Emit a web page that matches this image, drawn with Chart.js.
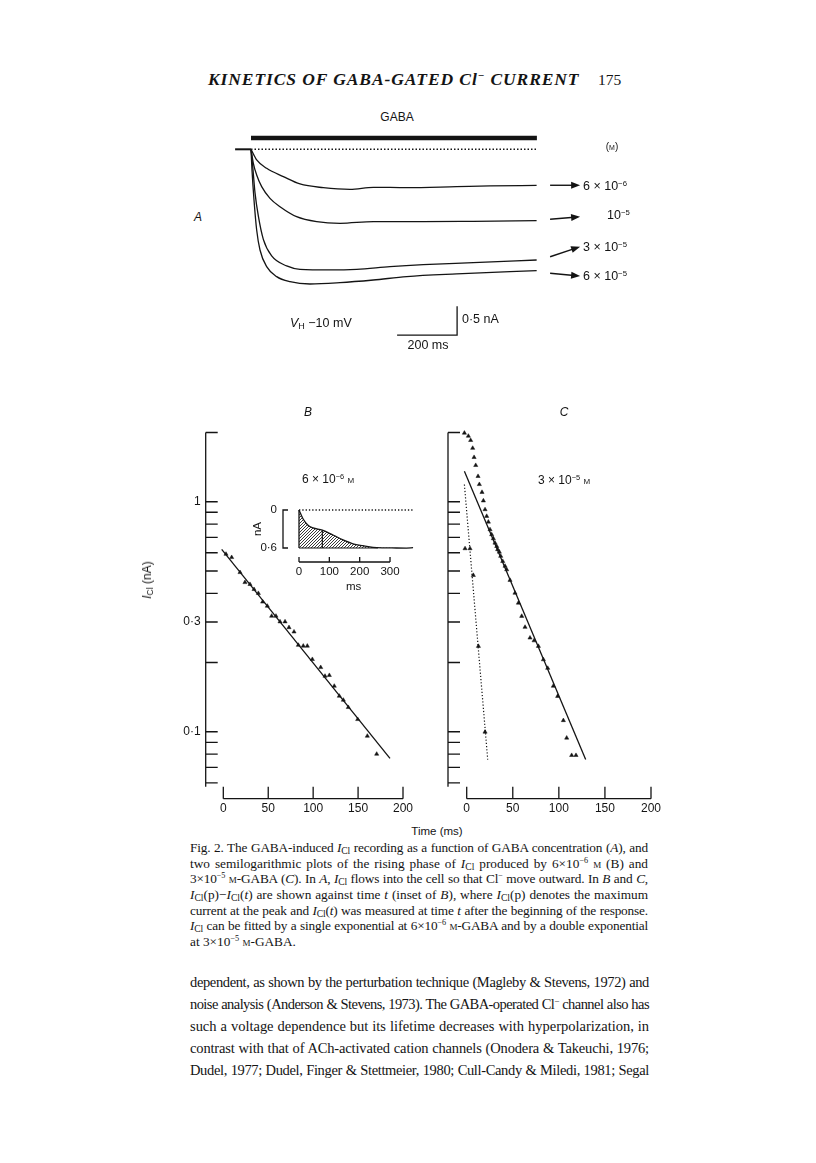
<!DOCTYPE html>
<html>
<head>
<meta charset="utf-8">
<script src="https://cdn.jsdelivr.net/npm/chart.js@4.4.1/dist/chart.umd.min.js"></script>
<style>
body { margin: 0; background: #fff; }
#page { position: relative; width: 816px; height: 1163px; overflow: hidden; color: #141414; }
canvas { position: absolute; }
.t { position: absolute; white-space: nowrap; line-height: 1; }
.sans { font-family: "Liberation Sans", Arial, sans-serif; }
.serif { font-family: "Liberation Serif", "Times New Roman", serif; }
.jl { position: absolute; left: 190px; white-space: nowrap; line-height: 1; font-family: "Liberation Serif", serif; }
.cap { font-size: 13.3px; }
.body { font-size: 14.5px; }
sup { font-size: 0.62em; vertical-align: 0.55em; line-height: 0; }
sub { font-size: 0.72em; vertical-align: -0.25em; line-height: 0; }
.sc { font-variant: small-caps; }
</style>
</head>
<body>
<div id="page">
  <div class="t serif" style="left:208px;top:80px;transform:translateY(-50%);font-weight:bold;font-style:italic;font-size:17.5px;letter-spacing:0.9px">KINETICS OF GABA-GATED Cl<sup>−</sup> CURRENT</div>
  <div class="t serif" style="left:598px;top:80px;transform:translateY(-50%);font-size:15.5px">175</div>

  <canvas id="chartA" width="420" height="225" style="left:230px;top:125px;width:420px;height:225px"></canvas>
  <canvas id="chartB" width="290" height="420" style="left:130px;top:400px;width:290px;height:420px"></canvas>
  <canvas id="chartC" width="240" height="420" style="left:430px;top:400px;width:240px;height:420px"></canvas>
  <canvas id="chartInset" width="180" height="100" style="left:250px;top:495px;width:180px;height:100px"></canvas>

  <div class="t sans" style="left:397px;top:117px;transform:translate(-50%,-50%);font-size:12px">GABA</div>
  <div class="t sans" style="left:612px;top:147px;transform:translate(-50%,-50%);font-size:10px">(<span class="sc">m</span>)</div>
  <div class="t sans" style="left:583px;top:186px;transform:translateY(-50%);font-size:12.5px">6 × 10<sup>−6</sup></div>
  <div class="t sans" style="left:607px;top:215px;transform:translateY(-50%);font-size:12.5px">10<sup>−5</sup></div>
  <div class="t sans" style="left:583px;top:247px;transform:translateY(-50%);font-size:12.5px">3 × 10<sup>−5</sup></div>
  <div class="t sans" style="left:583px;top:276px;transform:translateY(-50%);font-size:12.5px">6 × 10<sup>−5</sup></div>
  <div class="t sans" style="left:198px;top:217px;transform:translate(-50%,-50%);font-size:12px;font-style:italic">A</div>
  <div class="t sans" style="left:290px;top:323px;transform:translateY(-50%);font-size:12.5px"><i>V</i><sub>H</sub> −10 mV</div>
  <div class="t sans" style="left:462px;top:319px;transform:translateY(-50%);font-size:12.5px">0·5 nA</div>
  <div class="t sans" style="left:428px;top:345px;transform:translate(-50%,-50%);font-size:12.5px">200 ms</div>

  <div class="t sans" style="left:308px;top:412px;transform:translate(-50%,-50%);font-size:12px;font-style:italic">B</div>
  <div class="t sans" style="left:564px;top:412px;transform:translate(-50%,-50%);font-size:12px;font-style:italic">C</div>
  <div class="t sans" style="left:302px;top:479px;transform:translateY(-50%);font-size:12px">6 × 10<sup>−6</sup> <span class="sc">m</span></div>
  <div class="t sans" style="left:538px;top:480px;transform:translateY(-50%);font-size:12px">3 × 10<sup>−5</sup> <span class="sc">m</span></div>
  <div class="t sans" style="left:147px;top:580px;transform:translate(-50%,-50%) rotate(-90deg);font-size:12px"><i>I</i><sub>Cl</sub> (nA)</div>
  <div class="t sans" style="left:437px;top:832px;transform:translate(-50%,-50%);font-size:11.5px">Time (ms)</div>

  <div class="jl cap" data-w="458" style="top:841px">Fig. 2. The GABA-induced <i>I</i><sub>Cl</sub> recording as a function of GABA concentration (<i>A</i>), and</div>
  <div class="jl cap" data-w="458" style="top:857px">two semilogarithmic plots of the rising phase of <i>I</i><sub>Cl</sub> produced by 6×10<sup>−6</sup> <span class="sc">m</span> (B) and</div>
  <div class="jl cap" data-w="458" style="top:872px">3×10<sup>−5</sup> <span class="sc">m</span>-GABA (<i>C</i>). In <i>A</i>, <i>I</i><sub>Cl</sub> flows into the cell so that Cl<sup>−</sup> move outward. In <i>B</i> and <i>C</i>,</div>
  <div class="jl cap" data-w="458" style="top:888px"><i>I</i><sub>Cl</sub>(p)−<i>I</i><sub>Cl</sub>(<i>t</i>) are shown against time <i>t</i> (inset of <i>B</i>), where <i>I</i><sub>Cl</sub>(p) denotes the maximum</div>
  <div class="jl cap" data-w="458" style="top:904px">current at the peak and <i>I</i><sub>Cl</sub>(<i>t</i>) was measured at time <i>t</i> after the beginning of the response.</div>
  <div class="jl cap" data-w="458" style="top:919px"><i>I</i><sub>Cl</sub> can be fitted by a single exponential at 6×10<sup>−6</sup> <span class="sc">m</span>-GABA and by a double exponential</div>
  <div class="jl cap" style="top:935px">at 3×10<sup>−5</sup> <span class="sc">m</span>-GABA.</div>

  <div class="jl body" data-w="459" style="top:975px">dependent, as shown by the perturbation technique (Magleby &amp; Stevens, 1972) and</div>
  <div class="jl body" data-w="459" style="top:997px">noise analysis (Anderson &amp; Stevens, 1973). The GABA-operated Cl<sup>−</sup> channel also has</div>
  <div class="jl body" data-w="459" style="top:1019px">such a voltage dependence but its lifetime decreases with hyperpolarization, in</div>
  <div class="jl body" data-w="459" style="top:1041px">contrast with that of ACh-activated cation channels (Onodera &amp; Takeuchi, 1976;</div>
  <div class="jl body" data-w="459" style="top:1063px">Dudel, 1977; Dudel, Finger &amp; Stettmeier, 1980; Cull-Candy &amp; Miledi, 1981; Segal</div>
</div>

<script>
// ---- A: current traces (time in ms after GABA onset, current in nA)
const baseT = [-53, 0];
const baseI = [0, 0];
const gabaT = [0, 953];
const gabaI = [0.195, 0.195];
const zeroT = [0, 953];
const zeroI = [0, 0];

const t6e6 = [0, 18.9, 52.2, 107.8, 163.3, 241, 330, 408, 519, 685, 797, 952];
const i6e6 = [0, -0.184, -0.328, -0.471, -0.598, -0.661, -0.69, -0.655, -0.661, -0.644, -0.632, -0.621];
const t1e5 = [0, 7.8, 18.9, 35.6, 63.3, 96.7, 152, 219, 297, 408, 574, 741, 952];
const i1e5 = [0, -0.241, -0.443, -0.644, -0.845, -0.989, -1.161, -1.247, -1.276, -1.247, -1.247, -1.241, -1.23];
const t3e5 = [0, 5.6, 13.3, 24.4, 41.1, 68.9, 118.9, 163.3, 263.3, 352.2, 463.3, 574.4, 741.1, 952.2];
const i3e5 = [0, -0.287, -0.747, -1.149, -1.552, -1.839, -2.011, -2.069, -2.08, -2.069, -2.023, -1.989, -1.954, -1.908];
const t6e5 = [0, 3.3, 10, 18.9, 30, 52.2, 85.6, 130, 196.7, 296.7, 407.8, 518.9, 685.6, 952.2];
const i6e5 = [0, -0.356, -0.874, -1.391, -1.736, -2.023, -2.195, -2.282, -2.322, -2.299, -2.253, -2.195, -2.149, -2.092];

const scaleBarT = [487, 687, 687];
const scaleBarI = [-3.205, -3.205, -2.705];

// arrows pointing at the trace labels: [fromT, fromI, toT, toI]
const arrows = [
  [997, -0.62, 1097, -0.62],
  [997, -1.207, 1097, -1.162],
  [997, -1.852, 1097, -1.679],
  [997, -2.138, 1097, -2.184]
];

// ---- B: 6e-6 M, semilog points and single exponential fit
const bT = [3.0, 9.3, 18.6, 24.1, 29.7, 34.2, 39.0, 43.8, 49.0, 53.8, 58.6, 63.1, 68.7, 73.1, 78.7, 83.5, 89.0, 93.5, 99.1, 108.4, 113.2, 118.0, 123.5, 129.1, 133.6, 139.1, 149.6, 160.3, 170.7];
const bI = [0.592, 0.573, 0.493, 0.446, 0.4375, 0.416, 0.400, 0.367, 0.352, 0.3185, 0.3185, 0.301, 0.301, 0.284, 0.272, 0.238, 0.236, 0.236, 0.2065, 0.1905, 0.1746, 0.176, 0.158, 0.143, 0.1374, 0.1277, 0.1132, 0.0958, 0.080];
const bFitT = [-1.8, 185.5];
const bFitI = [0.621, 0.0766];

// ---- C: 3e-5 M, points, slow fit and fast (dotted) component
const cT = [-2.5, 1.8, 4.3, 6.5, 8.0, 9.8, 12.3, 13.7, 16.6, 18.1, 19.9, 21.7, 23.5, 25.3, 27.1, 28.9, 30.7, 32.6, 33.6, 35.4, 36.9, 39.1, 41.6, 43.4, 47.0, 52.4, 56.1, 59.7, 63.3, 68.7, 73.1, 77.8, 83.2, 87.9, 94.0, 98.7, 104.9, 108.5, 113.9, 118.6];
const cI = [1.99, 1.93, 1.85, 1.71, 1.56, 1.44, 1.29, 1.19, 1.10, 1.01, 0.925, 0.865, 0.817, 0.757, 0.72, 0.692, 0.662, 0.64, 0.62, 0.605, 0.58, 0.551, 0.525, 0.507, 0.456, 0.401, 0.363, 0.318, 0.285, 0.256, 0.249, 0.2355, 0.206, 0.189, 0.158, 0.1427, 0.112, 0.094, 0.079, 0.079];
const cFastT = [-1.8, 3.6, 7.2, 12.7, 19.9];
const cFastI = [0.626, 0.626, 0.479, 0.2355, 0.0998];
const cSlowFitT = [-2.5, 129.1];
const cSlowFitI = [1.357, 0.0757];
const cFastFitT = [-2.5, 22.8];
const cFastFitI = [1.188, 0.0757];

// axis ticks for B and C
const logTicks = [2, 1, 0.9, 0.8, 0.7, 0.6, 0.5, 0.4, 0.3, 0.2, 0.1, 0.09, 0.08, 0.07, 0.06];
const logLabels = [1, 0.3, 0.1];
const logLabelText = ['1', '0·3', '0·1'];
const timeTicks = [0, 50, 100, 150, 200];

// ---- inset of B: rising phase, nA (downward) vs ms
const insetT = [0, 13.2, 29.7, 46.2, 76.9, 112, 145, 178, 211, 244, 277, 321, 354, 376];
const insetI = [0, 0.138, 0.241, 0.282, 0.318, 0.395, 0.472, 0.533, 0.564, 0.590, 0.598, 0.600, 0.602, 0.595];
const insetMarkT = [76.9, 76.9];
const insetMarkI = [0.318, 0.6];
const insetEdgeT = [0, 0];
const insetEdgeI = [0, 0.6];
const insetFloorT = [0, 260];
const insetFloorI = [0.6, 0.6];
const insetZeroT = [0, 376];
const insetZeroI = [0, 0];
const insetYTicks = [0, 0.6];
const insetYText = ['0', '0·6'];
const insetXTicks = [0, 100, 200, 300];

const ink = '#141414';
const pts = (xs, ys) => xs.map((x, i) => ({x: x, y: ys[i]}));

function lineSet(xs, ys, extra) {
    return Object.assign({
        data: pts(xs, ys),
        showLine: true,
        borderColor: ink,
        borderWidth: 1.3,
        pointRadius: 0,
        fill: false,
        clip: false
    }, extra || {});
}

const baseOptions = (padding, xs, ys) => ({
    responsive: false,
    animation: false,
    events: [],
    layout: { padding: padding },
    plugins: { legend: { display: false }, tooltip: { enabled: false } },
    scales: { x: xs, y: ys }
});

// arrows in panel A
const arrowPlugin = {
    id: 'arrowPlugin',
    afterDatasetsDraw(chart) {
        const {ctx, scales: {x, y}} = chart;
        ctx.save();
        ctx.strokeStyle = ink;
        ctx.fillStyle = ink;
        ctx.lineWidth = 1.4;
        arrows.forEach(a => {
            const x0 = x.getPixelForValue(a[0]), y0 = y.getPixelForValue(a[1]);
            const x1 = x.getPixelForValue(a[2]), y1 = y.getPixelForValue(a[3]);
            const ang = Math.atan2(y1 - y0, x1 - x0);
            ctx.beginPath();
            ctx.moveTo(x0, y0);
            ctx.lineTo(x1 - 6 * Math.cos(ang), y1 - 6 * Math.sin(ang));
            ctx.stroke();
            ctx.beginPath();
            ctx.moveTo(x1, y1);
            ctx.lineTo(x1 - 9 * Math.cos(ang) + 3.5 * Math.sin(ang), y1 - 9 * Math.sin(ang) - 3.5 * Math.cos(ang));
            ctx.lineTo(x1 - 9 * Math.cos(ang) - 3.5 * Math.sin(ang), y1 - 9 * Math.sin(ang) + 3.5 * Math.cos(ang));
            ctx.closePath();
            ctx.fill();
        });
        ctx.restore();
    }
};

// detached axes for the semilog panels
const semilogAxes = {
    id: 'semilogAxes',
    afterDraw(chart, args, opts) {
        const {ctx, chartArea, scales: {x, y}} = chart;
        ctx.save();
        ctx.strokeStyle = ink;
        ctx.lineWidth = 1.3;
        ctx.beginPath();
        ctx.moveTo(chartArea.left, chartArea.top);
        ctx.lineTo(chartArea.left, chartArea.bottom);
        logTicks.forEach(v => {
            const py = y.getPixelForValue(v);
            ctx.moveTo(chartArea.left, py);
            ctx.lineTo(chartArea.left + 12, py);
        });
        const base = chartArea.bottom + 12;
        ctx.moveTo(x.getPixelForValue(timeTicks[0]), base);
        ctx.lineTo(x.getPixelForValue(timeTicks[timeTicks.length - 1]), base);
        timeTicks.forEach(v => {
            const px = x.getPixelForValue(v);
            ctx.moveTo(px, base);
            ctx.lineTo(px, base - 12);
        });
        ctx.stroke();
        ctx.fillStyle = ink;
        ctx.font = '12px "Liberation Sans", Arial, sans-serif';
        ctx.textAlign = 'center';
        ctx.textBaseline = 'middle';
        timeTicks.forEach(v => ctx.fillText(String(v), x.getPixelForValue(v), base + 10));
        if(opts.labels) {
            ctx.textAlign = 'right';
            logLabels.forEach((v, i) => ctx.fillText(logLabelText[i], chartArea.left - 5, y.getPixelForValue(v)));
        }
        ctx.restore();
    }
};

const insetAxes = {
    id: 'insetAxes',
    afterDraw(chart) {
        const {ctx, chartArea, scales: {x, y}} = chart;
        const bx = chartArea.left - 16;
        const y0 = y.getPixelForValue(insetYTicks[0]);
        const y1 = y.getPixelForValue(insetYTicks[1]);
        ctx.save();
        ctx.strokeStyle = ink;
        ctx.lineWidth = 1.3;
        ctx.beginPath();
        ctx.moveTo(bx + 5, y0);
        ctx.lineTo(bx, y0);
        ctx.lineTo(bx, y1);
        ctx.lineTo(bx + 5, y1);
        const base = chartArea.bottom + 14;
        ctx.moveTo(x.getPixelForValue(insetXTicks[0]), base);
        ctx.lineTo(x.getPixelForValue(insetXTicks[insetXTicks.length - 1]), base);
        insetXTicks.forEach(v => {
            const px = x.getPixelForValue(v);
            ctx.moveTo(px, base);
            ctx.lineTo(px, base - 5);
        });
        ctx.stroke();
        ctx.fillStyle = ink;
        ctx.font = '11.5px "Liberation Sans", Arial, sans-serif';
        ctx.textBaseline = 'middle';
        ctx.textAlign = 'right';
        insetYTicks.forEach((v, i) => ctx.fillText(insetYText[i], bx - 6, y.getPixelForValue(v)));
        ctx.textAlign = 'center';
        insetXTicks.forEach(v => ctx.fillText(String(v), x.getPixelForValue(v), base + 10));
        ctx.fillText('ms', x.getPixelForValue(180), base + 25);
        ctx.translate(bx - 25, (y0 + y1) / 2);
        ctx.rotate(-Math.PI / 2);
        ctx.fillText('nA', 0, 0);
        ctx.restore();
    }
};

function hatch() {
    const c = document.createElement('canvas');
    c.width = 3;
    c.height = 3;
    const g = c.getContext('2d');
    g.strokeStyle = '#222';
    g.lineWidth = 0.9;
    g.beginPath();
    g.moveTo(0, 3);
    g.lineTo(3, 0);
    g.moveTo(-1, 1);
    g.lineTo(1, -1);
    g.moveTo(2, 4);
    g.lineTo(4, 2);
    g.stroke();
    return g.createPattern(c, 'repeat');
}

document.addEventListener('DOMContentLoaded', () => {
    const smooth = { cubicInterpolationMode: 'monotone' };

    new Chart(document.getElementById('chartA'), {
        type: 'scatter',
        data: {
            datasets: [
                lineSet(gabaT, gabaI, { borderWidth: 4.5 }),
                lineSet(zeroT, zeroI, { borderWidth: 1.4, borderDash: [1.5, 2] }),
                lineSet(baseT, baseI, { borderWidth: 2 }),
                lineSet(t6e6, i6e6, smooth),
                lineSet(t1e5, i1e5, smooth),
                lineSet(t3e5, i3e5, smooth),
                lineSet(t6e5, i6e5, smooth),
                lineSet(scaleBarT, scaleBarI, { borderWidth: 1.3 })
            ]
        },
        options: baseOptions(0,
            { type: 'linear', min: -70, max: 1330, display: false },
            { type: 'linear', min: -3.46, max: 0.419, display: false }),
        plugins: [arrowPlugin]
    });

    const triangles = (xs, ys) => ({
        data: pts(xs, ys),
        pointStyle: 'triangle',
        pointRadius: 2.4,
        backgroundColor: ink,
        borderColor: ink,
        borderWidth: 0.5,
        showLine: false,
        clip: false
    });

    const optB = baseOptions({ left: 75.7, right: 17, top: 32.5, bottom: 33.3 },
        { type: 'linear', min: -19.6, max: 200, display: false },
        { type: 'logarithmic', min: 0.0577, max: 2, display: false });
    optB.plugins.semilogAxes = { labels: true };
    new Chart(document.getElementById('chartB'), {
        type: 'scatter',
        data: {
            datasets: [
                lineSet(bFitT, bFitI, { borderWidth: 1.3 }),
                triangles(bT, bI)
            ]
        },
        options: optB,
        plugins: [semilogAxes]
    });

    const optC = baseOptions({ left: 18, right: 19, top: 32.5, bottom: 33.3 },
        { type: 'linear', min: -20.3, max: 200, display: false },
        { type: 'logarithmic', min: 0.0577, max: 2, display: false });
    optC.plugins.semilogAxes = { labels: false };
    new Chart(document.getElementById('chartC'), {
        type: 'scatter',
        data: {
            datasets: [
                lineSet(cSlowFitT, cSlowFitI, { borderWidth: 1.3 }),
                lineSet(cFastFitT, cFastFitI, { borderWidth: 1.2, borderDash: [1.2, 2] }),
                triangles(cT, cI),
                triangles(cFastT, cFastI)
            ]
        },
        options: optC,
        plugins: [semilogAxes]
    });

    new Chart(document.getElementById('chartInset'), {
        type: 'scatter',
        data: {
            datasets: [
                lineSet(insetT, insetI, { fill: { value: 0.6 }, backgroundColor: hatch(), borderWidth: 1.3, cubicInterpolationMode: 'monotone' }),
                lineSet(insetZeroT, insetZeroI, { borderWidth: 1.3, borderDash: [1.3, 2] }),
                lineSet(insetEdgeT, insetEdgeI, { borderWidth: 1.3 }),
                lineSet(insetFloorT, insetFloorI, { borderWidth: 1.2 }),
                lineSet(insetMarkT, insetMarkI, { borderWidth: 1.2 })
            ]
        },
        options: baseOptions({ left: 49, right: 15.7, top: 15, bottom: 47 },
            { type: 'linear', min: 0, max: 380, display: false },
            { type: 'linear', min: 0, max: 0.6, reverse: true, display: false }),
        plugins: [insetAxes]
    });

    // justify each printed line to its measure; squeeze letters if the line is too long
    document.querySelectorAll('.jl[data-w]').forEach(el => {
        const target = parseFloat(el.dataset.w);
        const spaces = (el.textContent.match(/ /g) || []).length;
        const chars = el.textContent.length;
        let w = el.getBoundingClientRect().width;
        if(w > target - spaces * 0.4) {
            el.style.letterSpacing = ((target - spaces * 0.4 - w) / chars) + 'px';
            w = el.getBoundingClientRect().width;
        }
        if(spaces) {
            el.style.wordSpacing = ((target - w) / spaces) + 'px';
        }
    });
});
</script>
</body>
</html>
